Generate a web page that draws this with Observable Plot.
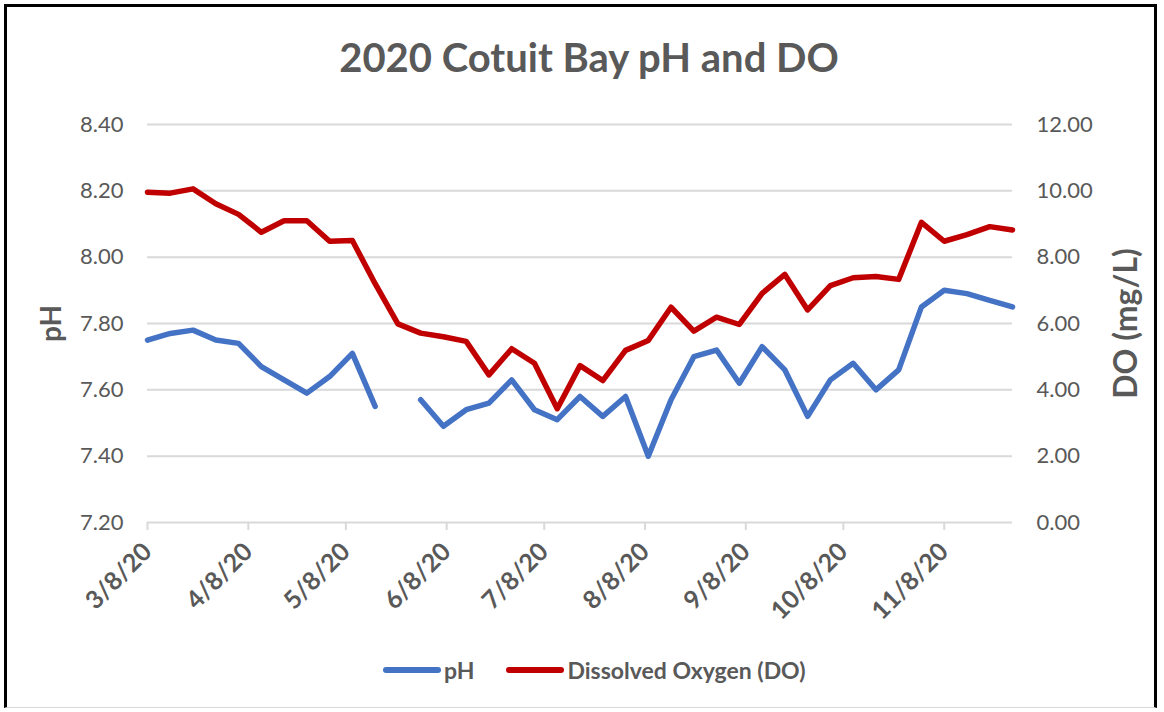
<!DOCTYPE html>
<html>
<head>
<meta charset="utf-8">
<script src="https://cdn.jsdelivr.net/npm/d3@7"></script>
<script src="https://cdn.jsdelivr.net/npm/@observablehq/plot@0.6"></script>
<style>
  html, body { margin: 0; padding: 0; background: #ffffff; }
  #wrap { position: relative; width: 1164px; height: 712px; overflow: hidden; font-family: Lato, "Open Sans", sans-serif; color: #595959; }
  #frame { position: absolute; left: 4px; top: 4px; width: 1153px; height: 704px; border-left: 3px solid #000; border-top: 3px solid #000; border-right: 3px solid #000; border-bottom: 1px solid #d9d9d9; box-sizing: border-box; }
  #title { position: absolute; left: 7px; top: 33px; width: 1164px; text-align: center; font-size: 40px; font-weight: bold; color: #595959; }
  #chart { position: absolute; left: 0; top: 100px; }
  #legend { position: absolute; left: 383px; top: 656px; display: flex; align-items: center; font-size: 23px; font-weight: bold; color: #595959; }
  .sw { display: inline-block; width: 58px; height: 6px; border-radius: 3px; margin-right: 3px; }
  .item { display: flex; align-items: center; margin-right: 32px; }
</style>
</head>
<body>
<div id="wrap">
  <div id="frame"></div>
  <div id="title">2020 Cotuit Bay pH and DO</div>
  <div id="chart"></div>
  <div id="legend"></div>
</div>
<script>
// Sample dates (weekly)
const dates = [
  "2020-03-08","2020-03-15","2020-03-22","2020-03-29","2020-04-05","2020-04-12","2020-04-19","2020-04-26",
  "2020-05-03","2020-05-10","2020-05-17","2020-05-24","2020-05-31","2020-06-07","2020-06-14","2020-06-21",
  "2020-06-28","2020-07-05","2020-07-12","2020-07-19","2020-07-26","2020-08-02","2020-08-09","2020-08-16",
  "2020-08-23","2020-08-30","2020-09-06","2020-09-13","2020-09-20","2020-09-27","2020-10-04","2020-10-11",
  "2020-10-18","2020-10-25","2020-11-01","2020-11-08","2020-11-15","2020-11-22","2020-11-29"
];
// pH series (null = no measurement)
const phValues = [
  7.75, 7.77, 7.78, 7.75, 7.74, 7.67, 7.63, 7.59,
  7.64, 7.71, 7.55, null, 7.57, 7.49, 7.54, 7.56,
  7.63, 7.54, 7.51, 7.58, 7.52, 7.58, 7.40, 7.57,
  7.70, 7.72, 7.62, 7.73, 7.66, 7.52, 7.63, 7.68,
  7.60, 7.66, 7.85, 7.90, 7.89, 7.87, 7.85
];
// Dissolved oxygen series (mg/L)
const doValues = [
  9.96, 9.93, 10.06, 9.61, 9.29, 8.75, 9.10, 9.10,
  8.48, 8.50, 7.20, 5.99, 5.71, 5.60, 5.46, 4.45,
  5.24, 4.80, 3.43, 4.73, 4.28, 5.19, 5.49, 6.49,
  5.77, 6.19, 5.97, 6.91, 7.48, 6.41, 7.14, 7.38,
  7.42, 7.33, 9.05, 8.48, 8.68, 8.92, 8.82
];
// Axis ticks
const xTickLabels = ["3/8/20","4/8/20","5/8/20","6/8/20","7/8/20","8/8/20","9/8/20","10/8/20","11/8/20"];
const phTicks = [7.2, 7.4, 7.6, 7.8, 8.0, 8.2, 8.4];
const doTicks = [0, 2, 4, 6, 8, 10, 12];
const seriesNames = ["pH", "Dissolved Oxygen (DO)"];
const seriesColors = ["#4472C4", "#C00000"];

const phDomain = [7.2, 8.4];
const doDomain = [0, 12];
const toPh = v => phDomain[0] + (v - doDomain[0]) * (phDomain[1] - phDomain[0]) / (doDomain[1] - doDomain[0]);
const toDo = p => doDomain[0] + (p - phDomain[0]) * (doDomain[1] - doDomain[0]) / (phDomain[1] - phDomain[0]);

const parseMDY = s => { const [m, d, y] = s.split("/").map(Number); return new Date(Date.UTC(2000 + y, m - 1, d)); };
const xTicks = xTickLabels.map(parseMDY);
const rows = dates.map((d, i) => ({
  date: new Date(d + "T00:00:00Z"),
  ph: phValues[i] == null ? NaN : phValues[i],
  dox: doValues[i] == null ? NaN : doValues[i]
}));

const chart = Plot.plot({
  width: 1164,
  height: 540,
  marginLeft: 147,
  marginRight: 152,
  marginTop: 24,
  marginBottom: 118,
  style: { fontFamily: "Lato, 'Open Sans', sans-serif", color: "#595959", background: "transparent", overflow: "visible" },
  x: { type: "utc", domain: [rows[0].date, rows[rows.length - 1].date] },
  y: { domain: phDomain },
  marks: [
    Plot.gridY(phTicks.slice(1), { stroke: "#d9d9d9", strokeOpacity: 1, strokeWidth: 2 }),
    Plot.ruleY([phDomain[0]], { stroke: "#d9d9d9", strokeWidth: 2 }),
    Plot.axisY({ anchor: "left", ticks: phTicks, tickFormat: d => d.toFixed(2), tickSize: 0, tickPadding: 24, fontSize: 22, fill: "#595959", label: null }),
    Plot.axisY({ anchor: "right", ticks: doTicks.map(toPh), tickFormat: d => toDo(d).toFixed(2), tickSize: 0, tickPadding: 24, fontSize: 22, fill: "#595959", label: null }),
    Plot.axisX({ ticks: xTicks, tickFormat: d => `${d.getUTCMonth() + 1}/${d.getUTCDate()}/20`, tickRotate: -45, tickSize: 8, tickPadding: 17, stroke: "#d9d9d9", strokeWidth: 2, fontSize: 25, fontWeight: "bold", fill: "#595959", textAnchor: "end", label: null }),
    Plot.text([seriesNames[0]], { frameAnchor: "left", dx: -95, rotate: -90, textAnchor: "middle", fontSize: 28, fontWeight: "bold", fill: "#595959" }),
    Plot.text(["DO (mg/L)"], { frameAnchor: "right", dx: 114, rotate: -90, textAnchor: "middle", fontSize: 32, fontWeight: "bold", fill: "#595959" }),
    Plot.line(rows, { x: "date", y: "ph", stroke: seriesColors[0], strokeWidth: 5.5, strokeLinejoin: "round", strokeLinecap: "round" }),
    Plot.line(rows, { x: "date", y: d => toPh(d.dox), stroke: seriesColors[1], strokeWidth: 5.5, strokeLinejoin: "round", strokeLinecap: "round" })
  ]
});
document.getElementById("chart").appendChild(chart);

const legend = document.getElementById("legend");
seriesNames.forEach((name, i) => {
  const item = document.createElement("div");
  item.className = "item";
  const sw = document.createElement("span");
  sw.className = "sw";
  sw.style.background = seriesColors[i];
  const lab = document.createElement("span");
  lab.textContent = name;
  item.appendChild(sw);
  item.appendChild(lab);
  legend.appendChild(item);
});
</script>
</body>
</html>
